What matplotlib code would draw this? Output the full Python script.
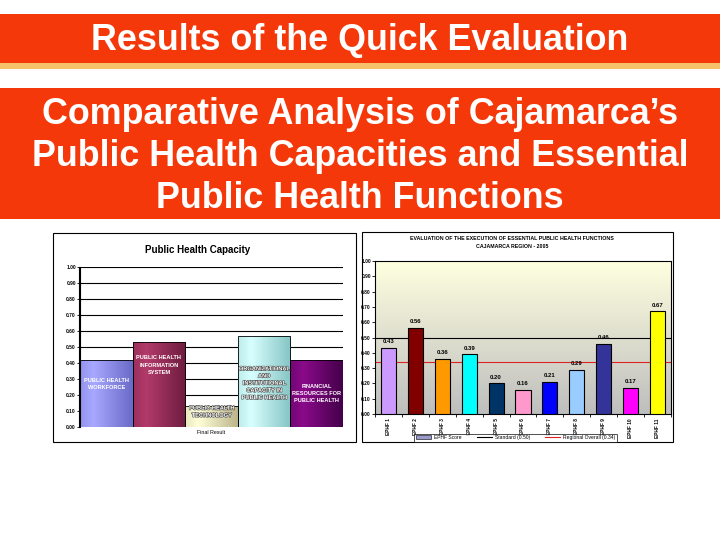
import matplotlib
matplotlib.use("Agg")
import matplotlib.pyplot as plt
import numpy as np
from matplotlib.patches import Rectangle
from matplotlib.lines import Line2D
import matplotlib.patheffects as pe

plt.rcParams['font.family'] = ['Liberation Sans', 'DejaVu Sans']

# ---------------- data ----------------
title_main = "Results of the Quick Evaluation"
title_sub = ["Comparative Analysis of Cajamarca\u2019s",
             "Public Health Capacities and Essential",
             "Public Health Functions"]

cap_title = "Public Health Capacity"
cap_xlabel = "Final Result"
cap_categories = ["PUBLIC HEALTH\nWORKFORCE",
                  "PUBLIC HEALTH\nINFORMATION\nSYSTEM",
                  "PUBLIC HEALTH\nTECHNOLOGY",
                  "ORGANIZATIONAL\nAND\nINSTITUTIONAL\nCAPACITY IN\nPUBLIC HEALTH",
                  "FINANCIAL\nRESOURCES FOR\nPUBLIC HEALTH"]
cap_values = [0.42, 0.53, 0.13, 0.57, 0.42]

ephf_title = ["EVALUATION OF THE EXECUTION OF ESSENTIAL PUBLIC HEALTH FUNCTIONS",
              "CAJAMARCA REGION - 2005"]
ephf_labels = ["EPHF 1", "EPHF 2", "EPHF 3", "EPHF 4", "EPHF 5", "EPHF 6",
               "EPHF 7", "EPHF 8", "EPHF 9", "EPHF 10", "EPHF 11"]
ephf_values = [0.43, 0.56, 0.36, 0.39, 0.20, 0.16, 0.21, 0.29, 0.46, 0.17, 0.67]
standard_value = 0.50
regional_value = 0.34
legend_labels = ["EPHF Score", "Standard (0.50)", "Regional Overall (0.34)"]

# ---------------- styles ----------------
W, H = 720, 540
BANNER = '#F5380A'
STRIPE = '#F5C26B'
cap_grad = [('#A8A8FF', '#6A6AC8'),
            ('#B23A6A', '#6E1C40'),
            ('#FFFFD8', '#BDB58A'),
            ('#D8FFFF', '#86C4C4'),
            ('#8A0A8A', '#44004A')]
cap_label_frac = [0.64, 0.73, 0.73, 0.48, 0.50]
cap_label_dark = [False, False, True, True, False]
ephf_colors = ['#CC99FF', '#800000', '#FF9900', '#00FFFF', '#003366', '#FF99CC',
               '#0000FF', '#99CCFF', '#333399', '#FF00FF', '#FFFF00']

fig = plt.figure(figsize=(7.2, 5.4), dpi=100)


def px_axes(x0, y0, x1, y1, **kw):
    return fig.add_axes([x0 / W, 1 - y1 / H, (x1 - x0) / W, (y1 - y0) / H], **kw)


bg = fig.add_axes([0, 0, 1, 1], zorder=0)
bg.set_xlim(0, W)
bg.set_ylim(H, 0)
bg.axis('off')

bg.add_patch(Rectangle((0, 14), W, 49, color=BANNER, lw=0))
bg.add_patch(Rectangle((0, 63), W, 6, color=STRIPE, lw=0))
bg.add_patch(Rectangle((0, 88), W, 131, color=BANNER, lw=0))
bg.text(360, 41, title_main, color='white', fontsize=25.8, ha='center', va='center',
        fontweight='bold')
for i, line in enumerate(title_sub):
    bg.text(360, 114 + i * 42.5, line, color='white', fontsize=25.8, ha='center',
            va='center', fontweight='bold')

bg.add_patch(Rectangle((53, 233), 303, 209, fc='white', ec='black', lw=0.8))
bg.add_patch(Rectangle((362, 232), 311, 210, fc='white', ec='black', lw=0.8))

# ---------------- left chart ----------------
bg.text(198, 250, cap_title, fontsize=7, fontweight='bold', ha='center', va='center')
axL = px_axes(80, 267, 343, 427, zorder=2)
axL.set_xlim(-0.5, len(cap_values) - 0.5)
axL.set_ylim(0, 1.0)
ticks = np.round(np.arange(0, 1.01, 0.1), 2)
axL.set_yticks(ticks)
axL.set_yticklabels([f"{t:.2f}" for t in ticks], fontsize=3.5, fontweight='bold')
axL.tick_params(axis='y', length=2, width=0.6, pad=1)
axL.set_xticks([])
for t in ticks:
    axL.axhline(t, color='black', lw=0.8, zorder=1)
for s in ['top', 'right', 'bottom']:
    axL.spines[s].set_visible(False)
axL.spines['left'].set_linewidth(0.8)
axL.patch.set_alpha(0)
axL.set_xlabel(cap_xlabel, fontsize=3.8, labelpad=2)
bg.plot([78.5, 78.5], [267, 427], color='black', lw=0.8)

bars = axL.bar(range(len(cap_values)), cap_values, width=1.0, edgecolor='black', lw=0.6, zorder=3)
for i, (b, (c0, c1)) in enumerate(zip(bars, cap_grad)):
    b.set_facecolor('none')
    c0a = np.array(matplotlib.colors.to_rgb(c0))
    c1a = np.array(matplotlib.colors.to_rgb(c1))
    t = np.linspace(0, 1, 64)
    prof = np.clip(1 - np.abs(t - 0.25) / 0.75, 0, 1)
    grad = (c1a[None, :] * (1 - prof[:, None]) + c0a[None, :] * prof[:, None])[None, :, :]
    x0 = b.get_x()
    im = axL.imshow(grad, extent=(x0, x0 + b.get_width(), 0, b.get_height()),
                    aspect='auto', zorder=2.5, origin='lower')
    im.set_clip_path(b)
    y = cap_values[i] * cap_label_frac[i]
    kw = dict(ha='center', va='center', fontsize=4.1, fontweight='bold', color='white',
              zorder=4, linespacing=1.55)
    if cap_label_dark[i]:
        kw['path_effects'] = [pe.withStroke(linewidth=0.8, foreground='#444444')]
    axL.text(i, y, cap_categories[i], **kw)

# ---------------- right chart ----------------
bg.text(512, 238, ephf_title[0], fontsize=3.8, fontweight='bold', ha='center', va='center')
bg.text(512, 246, ephf_title[1], fontsize=3.8, fontweight='bold', ha='center', va='center')

axR = px_axes(375, 261, 671, 414, zorder=2)
n = len(ephf_values)
axR.set_xlim(-0.5, n - 0.5)
axR.set_ylim(0, 1.0)
gbg = np.linspace(0, 1, 128)[:, None]
top = np.array(matplotlib.colors.to_rgb('#FFFFE0'))
bot = np.array(matplotlib.colors.to_rgb('#BEBEBE'))
gimg = (bot[None, None, :] * (1 - gbg[:, :, None]) + top[None, None, :] * gbg[:, :, None])
axR.imshow(gimg, extent=(-0.5, n - 0.5, 0, 1.0), aspect='auto', origin='lower', zorder=0)
xs = np.arange(n)
axR.bar(xs, ephf_values, width=0.56, color=ephf_colors, edgecolor='black', lw=0.8, zorder=3)
for x, v in zip(xs, ephf_values):
    axR.text(x, v + 0.025, f"{v:.2f}", ha='center', va='bottom', fontsize=4.3,
             fontweight='bold', zorder=4)
axR.axhline(standard_value, color='black', lw=0.8, zorder=2)
axR.axhline(regional_value, color='#DD2222', lw=0.8, zorder=2)
axR.set_yticks(ticks)
axR.set_yticklabels([f"{t:.2f}" for t in ticks], fontsize=3.5, fontweight='bold')
axR.tick_params(axis='y', length=2, width=0.6, pad=1)
axR.set_xticks(xs)
axR.set_xticks(np.arange(-0.5, n, 1), minor=True)
axR.set_xticklabels(ephf_labels, rotation=90, fontsize=3.4, fontweight='bold')
axR.tick_params(axis='x', which='major', length=0, pad=3)
axR.tick_params(axis='x', which='minor', length=2.5, width=0.6)
for s in axR.spines.values():
    s.set_linewidth(0.8)

handles = [Rectangle((0, 0), 1, 1, fc='#9999CC', ec='black', lw=0.4),
           Line2D([0], [0], color='black', lw=0.8),
           Line2D([0], [0], color='#DD2222', lw=0.8)]
leg = fig.legend(handles, legend_labels, loc='center', ncol=3,
                 bbox_to_anchor=(515.5 / W, 1 - 437.5 / H), fontsize=3.6,
                 frameon=True, fancybox=False, edgecolor='black', handlelength=3,
                 handleheight=0.8, borderpad=0.3, columnspacing=3, handletextpad=0.6)
leg.get_frame().set_linewidth(0.6)
leg.set_zorder(5)

fig.savefig('out.png', dpi=100)
